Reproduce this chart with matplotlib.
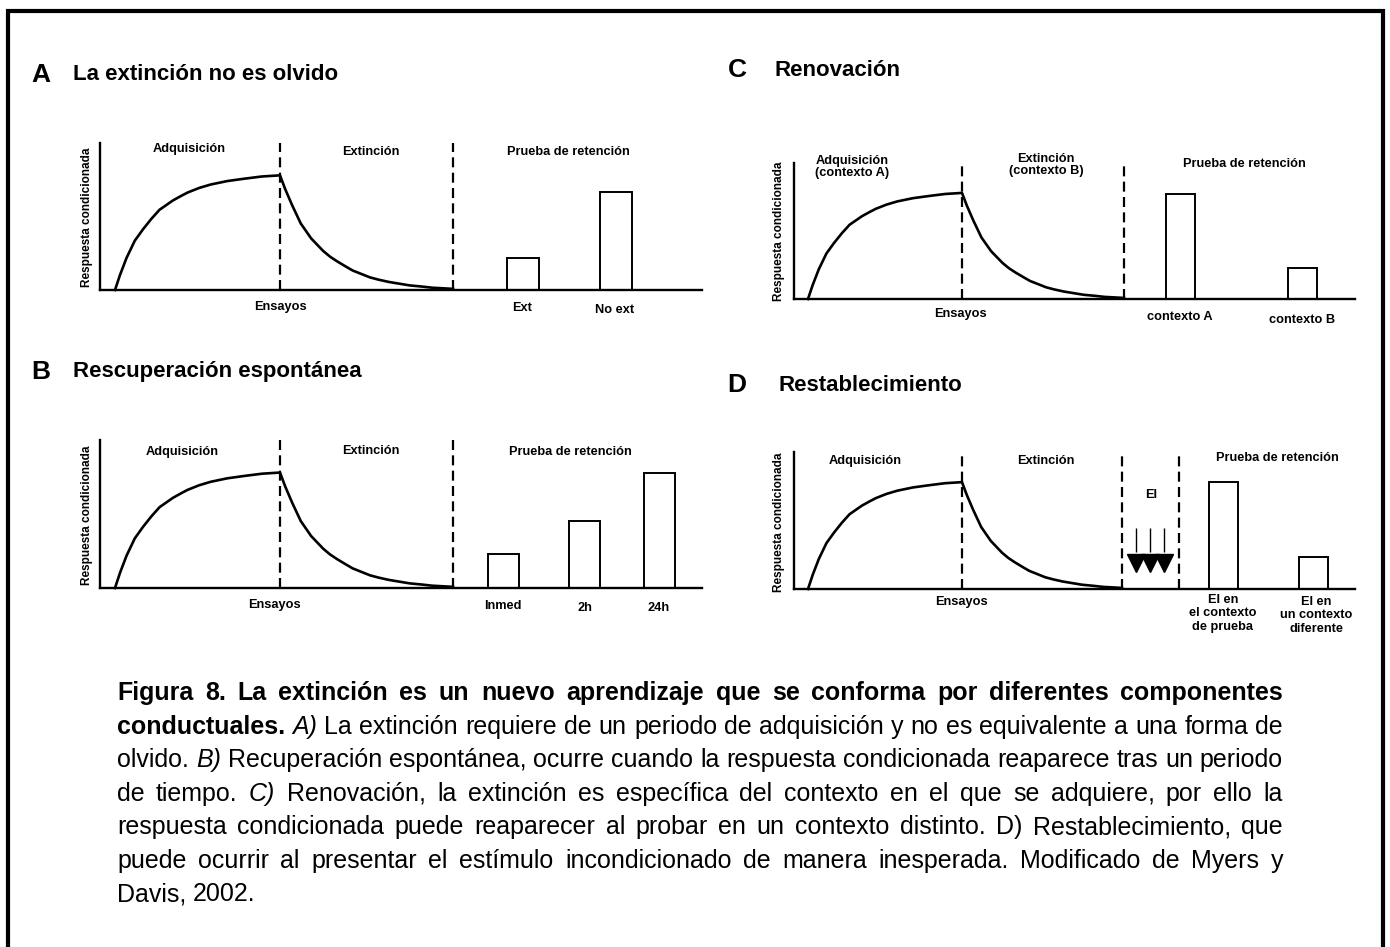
import matplotlib
matplotlib.use("Agg")
import matplotlib.pyplot as plt
from matplotlib.patches import Rectangle

W, H = 1390, 947
FONT = "Liberation Sans"

# ---- curve shapes (fraction of phase, fraction of peak) ----
acq_t = [0.0, 0.03, 0.07, 0.12, 0.17, 0.22, 0.27, 0.31, 0.35, 0.40, 0.44, 0.51, 0.58,
         0.68, 0.78, 0.89, 1.0]
acq_y = [0.0, 0.13, 0.28, 0.43, 0.53, 0.62, 0.70, 0.74, 0.78, 0.82, 0.85, 0.89, 0.92,
         0.95, 0.97, 0.99, 1.0]
ext_t = [0.0, 0.03, 0.07, 0.12, 0.18, 0.25, 0.29, 0.33, 0.38, 0.42, 0.47, 0.52, 0.57,
         0.63, 0.69, 0.75, 0.82, 0.88, 0.94, 1.0]
ext_y = [1.0, 0.88, 0.74, 0.58, 0.45, 0.34, 0.29, 0.25, 0.205, 0.17, 0.14, 0.11, 0.09,
         0.07, 0.055, 0.04, 0.03, 0.02, 0.015, 0.01]

# ---- panel data ----
a_peak = 0.78
a_bars = ["Ext", "No ext"]
a_heights = [0.22, 0.67]

b_peak = 0.78
b_bars = ["Inmed", "2h", "24h"]
b_heights = [0.23, 0.45, 0.78]

c_peak = 0.78
c_bars = ["contexto A", "contexto B"]
c_heights = [0.77, 0.23]

d_peak = 0.78
d_bars = ["EI en\nel contexto\nde prueba", "EI en\nun contexto\ndiferente"]
d_heights = [0.78, 0.23]

ylabel = "Respuesta condicionada"
xlabel = "Ensayos"

caption = [
    [("Figura", "b"), ("8.", "b"), ("La", "b"), ("extinción", "b"), ("es", "b"), ("un", "b"),
     ("nuevo", "b"), ("aprendizaje", "b"), ("que", "b"), ("se", "b"), ("conforma", "b"),
     ("por", "b"), ("diferentes", "b"), ("componentes", "b")],
    [("conductuales.", "b"), ("A)", "i")] + [(w, "r") for w in
     "La extinción requiere de un periodo de adquisición y no es equivalente a una forma de".split()],
    [("olvido.", "r"), ("B)", "i")] + [(w, "r") for w in
     "Recuperación espontánea, ocurre cuando la respuesta condicionada reaparece tras un periodo".split()],
    [("de", "r"), ("tiempo.", "r"), ("C)", "i")] + [(w, "r") for w in
     "Renovación, la extinción es específica del contexto en el que se adquiere, por ello la".split()],
    [(w, "r") for w in
     "respuesta condicionada puede reaparecer al probar en un contexto distinto. D) Restablecimiento, que".split()],
    [(w, "r") for w in
     "puede ocurrir al presentar el estímulo incondicionado de manera inesperada. Modificado de Myers y".split()],
    [(w, "r") for w in "Davis, 2002.".split()],
]

fig = plt.figure(figsize=(W / 100, H / 100), dpi=100)
fig.patch.set_facecolor("white")

LBL = 9.2
TITLE = 16
LETTER = 19


def fx(x):
    return x / W


def fy(y):
    return 1 - y / H


def label(x, y, s, size=LBL, **kw):
    fig.text(fx(x), fy(y), s, ha="center", va="center", fontsize=size,
             fontweight="bold", family=FONT, **kw)


def title(x_letter, x_text, y, letter, s):
    label(x_letter, y, letter, size=LETTER)
    fig.text(fx(x_text), fy(y), s, ha="left", va="center",
             fontsize=TITLE, fontweight="bold", family=FONT)


def panel(left, right, base, top, start, dashes, peak, bar_x, bar_w, heights):
    ax = fig.add_axes([fx(left), fy(base), (right - left) / W, (base - top) / H])
    ax.set_xlim(left, right)
    ax.set_ylim(0, 1)
    for s in ["top", "right"]:
        ax.spines[s].set_visible(False)
    for s in ["left", "bottom"]:
        ax.spines[s].set_linewidth(1.7)
    ax.set_xticks([])
    ax.set_yticks([])
    ax.patch.set_alpha(0)

    d1, d2 = dashes[0], dashes[1]
    xs = [start + t * (d1 - start) for t in acq_t] + [d1 + t * (d2 - d1) for t in ext_t]
    ys = [v * peak for v in acq_y] + [v * peak for v in ext_y]
    ax.plot(xs, ys, color="black", lw=1.9, solid_joinstyle="round", clip_on=False)

    for d in dashes:
        ax.axvline(d, 0, 1, color="black", lw=1.6, ls=(0, (4.5, 2.4)))

    ax.bar(bar_x, heights, width=bar_w, fill=False, edgecolor="black", lw=1.4)
    return ax


# ---- A ----
panel(100, 702, 290, 143, 115, [280, 453], a_peak, [523, 616], 32, a_heights)
title(41, 73, 75, "A", "La extinción no es olvido")
label(189, 149, "Adquisición")
label(371, 152, "Extinción")
label(568, 152, "Prueba de retención")
label(280, 307, xlabel)
label(522, 308, a_bars[0])
label(615, 310, a_bars[1])
label(87, 217, ylabel, size=8.5, rotation=90)

# ---- B ----
panel(100, 702, 588, 440, 115, [280, 453], b_peak, [503.5, 584.5, 659.5], 31, b_heights)
title(41, 73, 372, "B", "Rescuperación espontánea")
label(182, 452, "Adquisición")
label(371, 451, "Extinción")
label(570, 452, "Prueba de retención")
label(274, 605, xlabel)
label(503, 606, b_bars[0])
label(585, 608, b_bars[1])
label(659, 608, b_bars[2])
label(87, 515, ylabel, size=8.5, rotation=90)

# ---- C ----
panel(794, 1355, 299, 163, 808, [962, 1124], c_peak, [1180, 1302], 29, c_heights)
title(737, 775, 70, "C", "Renovación")
label(852, 167, "Adquisición\n(contexto A)", linespacing=1.1)
label(1046, 165, "Extinción\n(contexto B)", linespacing=1.1)
label(1244, 164, "Prueba de retención")
label(960, 314, xlabel)
label(1180, 317, c_bars[0])
label(1302, 320, c_bars[1])
label(779, 231, ylabel, size=8.5, rotation=90)

# ---- D ----
axd = panel(794, 1355, 589, 452, 808, [962, 1122, 1179], d_peak, [1223, 1313], 29, d_heights)
title(737, 778, 385, "D", "Restablecimiento")
label(865, 461, "Adquisición")
label(1046, 461, "Extinción")
label(1277, 458, "Prueba de retención")
label(1151, 495, "EI")
arrow_x = [1136, 1150, 1164]
axd.vlines(arrow_x, 0.27, 0.445, color="black", lw=1.0)
axd.plot(arrow_x, [0.19] * 3, ls="none", marker="v", ms=12.5, color="black", clip_on=False)
label(961, 602, xlabel)
fig.text(fx(1223), fy(594), d_bars[0], ha="center", va="top", fontsize=LBL,
         fontweight="bold", family=FONT, linespacing=1.15)
fig.text(fx(1316), fy(596), d_bars[1], ha="center", va="top", fontsize=LBL,
         fontweight="bold", family=FONT, linespacing=1.15)
label(779, 522, ylabel, size=8.5, rotation=90)

# ---- caption, justified ----
CAP_L, CAP_R = 117, 1283
CAP_FS = 18
renderer = fig.canvas.get_renderer()
for i, words in enumerate(caption):
    yb = 700 + 33.5 * i
    texts = []
    for w, st in words:
        t = fig.text(0, fy(yb), w, ha="left", va="baseline", fontsize=CAP_FS, family=FONT,
                     fontweight="bold" if st == "b" else "normal",
                     fontstyle="italic" if st == "i" else "normal")
        texts.append(t)
    widths = [t.get_window_extent(renderer).width for t in texts]
    if i == len(caption) - 1:
        gap = CAP_FS * 100 / 72 * 0.278
    else:
        gap = (CAP_R - CAP_L - sum(widths)) / (len(texts) - 1)
    x = CAP_L
    for t, w in zip(texts, widths):
        t.set_x(fx(x))
        x += w + gap

# ---- outer frame (open at the bottom) ----
fig.add_artist(Rectangle((fx(8), fy(H + 20)), (1383 - 8) / W, (H + 20 - 11.5) / H,
                         transform=fig.transFigure, fill=False, edgecolor="black",
                         lw=3.0, clip_on=False))

fig.savefig("out.png", dpi=100)
